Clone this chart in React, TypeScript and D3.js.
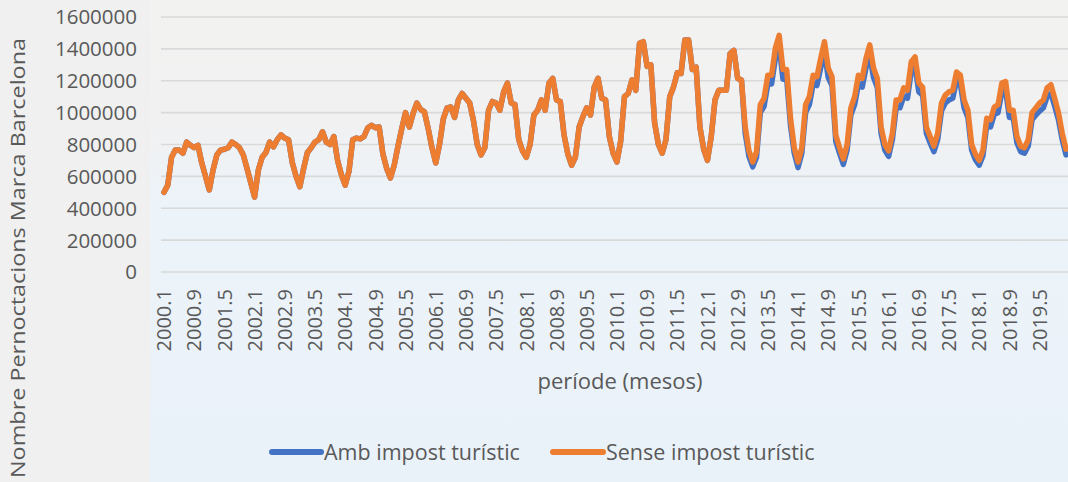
import React from 'react';
import * as d3 from 'd3';

// Monthly overnight stays, Jan..Dec per row, 2000-2019
const years = d3.range(2000, 2020);
const months = d3.range(1, 13);

const senseImpost = [
  500000, 545000, 720000, 765000, 765000, 745000, 815000, 795000, 780000, 795000, 685000, 600000, // 2000
  515000, 640000, 735000, 765000, 770000, 780000, 815000, 800000, 780000, 735000, 650000, 560000, // 2001
  470000, 640000, 720000, 750000, 815000, 785000, 830000, 860000, 840000, 830000, 685000, 600000, // 2002
  535000, 650000, 750000, 780000, 815000, 830000, 880000, 815000, 800000, 850000, 700000, 610000, // 2003
  545000, 630000, 830000, 840000, 835000, 850000, 905000, 920000, 905000, 910000, 740000, 650000, // 2004
  590000, 670000, 790000, 900000, 1000000, 910000, 995000, 1060000, 1020000, 1005000, 900000, 780000, // 2005
  685000, 800000, 960000, 1030000, 1035000, 970000, 1080000, 1120000, 1090000, 1060000, 950000, 800000, // 2006
  735000, 780000, 1015000, 1070000, 1060000, 1015000, 1130000, 1185000, 1060000, 1050000, 830000, 760000, // 2007
  720000, 800000, 985000, 1015000, 1080000, 1015000, 1185000, 1215000, 1080000, 1070000, 860000, 740000, // 2008
  670000, 720000, 910000, 975000, 1030000, 985000, 1160000, 1215000, 1090000, 1080000, 850000, 745000, // 2009
  690000, 820000, 1100000, 1120000, 1205000, 1140000, 1435000, 1445000, 1290000, 1300000, 935000, 800000, // 2010
  745000, 830000, 1100000, 1160000, 1250000, 1245000, 1455000, 1455000, 1270000, 1285000, 910000, 770000, // 2011
  700000, 850000, 1080000, 1140000, 1140000, 1140000, 1370000, 1390000, 1215000, 1205000, 910000, 760000, // 2012
  690000, 755000, 1050000, 1090000, 1235000, 1235000, 1405000, 1485000, 1270000, 1270000, 965000, 780000, // 2013
  690000, 780000, 1050000, 1100000, 1235000, 1225000, 1340000, 1445000, 1280000, 1225000, 860000, 780000, // 2014
  710000, 800000, 1030000, 1100000, 1235000, 1215000, 1340000, 1425000, 1280000, 1215000, 910000, 800000, // 2015
  760000, 870000, 1080000, 1080000, 1155000, 1140000, 1320000, 1350000, 1185000, 1160000, 910000, 850000, // 2016
  790000, 870000, 1060000, 1110000, 1130000, 1140000, 1255000, 1235000, 1080000, 1015000, 800000, 740000, // 2017
  700000, 765000, 965000, 955000, 1035000, 1050000, 1185000, 1195000, 1015000, 1015000, 850000, 790000, // 2018
  780000, 830000, 1000000, 1030000, 1060000, 1080000, 1155000, 1175000, 1090000, 1000000, 870000, 770000, // 2019
];

// with the tourist tax the series splits off from 2012.11 on
const ambImpostFrom = '2012.11';
const ambImpostTail = [
  870000, 725000, // 2012
  660000, 720000, 1000000, 1040000, 1180000, 1180000, 1340000, 1415000, 1210000, 1210000, 920000, 745000, // 2013
  655000, 745000, 1000000, 1050000, 1180000, 1170000, 1280000, 1380000, 1220000, 1170000, 820000, 745000, // 2014
  675000, 765000, 985000, 1050000, 1180000, 1160000, 1280000, 1360000, 1220000, 1160000, 870000, 765000, // 2015
  725000, 830000, 1030000, 1030000, 1100000, 1090000, 1260000, 1290000, 1130000, 1110000, 870000, 810000, // 2016
  755000, 830000, 1010000, 1060000, 1080000, 1090000, 1200000, 1180000, 1030000, 970000, 765000, 705000, // 2017
  670000, 730000, 920000, 910000, 990000, 1000000, 1130000, 1140000, 970000, 970000, 810000, 755000, // 2018
  745000, 790000, 955000, 985000, 1010000, 1030000, 1100000, 1120000, 1040000, 955000, 830000, 735000, // 2019
];

const yTicks = [0, 200000, 400000, 600000, 800000, 1000000, 1200000, 1400000, 1600000];

const categories = years.flatMap(y => months.map(m => `${y}.${m}`));
const splitIdx = categories.indexOf(ambImpostFrom);
const ambImpost = senseImpost.slice(0, splitIdx).concat(ambImpostTail);
const xLabels = categories.filter((_, i) => i % 8 === 0);

const W = 1068;
const H = 482;
const FONT = "'Open Sans', sans-serif";
const TXT = '#595959';

const App: React.FC = () => {
  const x = d3.scalePoint<string>().domain(categories).range([164, 1066]);
  const y = d3.scaleLinear().domain([0, 1600000]).range([272, 17]);

  const line = d3.line<number>()
    .x((_, i) => x(categories[i]) as number)
    .y(d => y(d));

  return (
    <svg width={W} height={H} style={{ position: 'absolute', left: 0, top: 0 }}>
      <defs>
        <linearGradient id="bg" x1="0" y1="0" x2="0" y2="1">
          <stop offset="0%" stopColor="#f2f2f1" />
          <stop offset="25%" stopColor="#f1f1f1" />
          <stop offset="42%" stopColor="#ecf3f9" />
          <stop offset="100%" stopColor="#eaf2f9" />
        </linearGradient>
      </defs>
      <rect x={0} y={0} width={W} height={H} fill="url(#bg)" />
      <rect x={0} y={0} width={150} height={H} fill="#f0f0f0" />

      {/* grid */}
      {yTicks.map(t => (
        <line key={t} x1={161} x2={W} y1={y(t)} y2={y(t)} stroke="#d9d9d9" strokeWidth={1.6} />
      ))}

      {/* y tick labels */}
      {yTicks.map(t => (
        <text key={t} x={137} y={y(t)} dy="0.36em" textAnchor="end"
          fontFamily={FONT} fontSize={20.5} fill={TXT}>{t}</text>
      ))}

      {/* x tick labels */}
      {xLabels.map(c => (
        <text key={c} transform={`translate(${x(c)},289) rotate(-90)`} dy="0.36em"
          textAnchor="end" fontFamily={FONT} fontSize={20} fill={TXT}>{c}</text>
      ))}

      {/* series */}
      <path d={line(ambImpost) || ''} fill="none" stroke="#4472C4" strokeWidth={5.5}
        strokeLinejoin="round" strokeLinecap="round" />
      <path d={line(senseImpost) || ''} fill="none" stroke="#ED7D31" strokeWidth={5.5}
        strokeLinejoin="round" strokeLinecap="round" />

      {/* axis titles */}
      <text x={620} y={381} dy="0.36em" textAnchor="middle" fontFamily={FONT} fontSize={22} fill={TXT}>
        període (mesos)
      </text>
      <text transform="translate(18,258) rotate(-90)" dy="0.36em" textAnchor="middle"
        fontFamily={FONT} fontSize={20} fill={TXT} textLength={440} lengthAdjust="spacingAndGlyphs">
        Nombre Pernoctacions Marca Barcelona
      </text>

      {/* legend */}
      <line x1={272} x2={321} y1={452} y2={452} stroke="#4472C4" strokeWidth={6} strokeLinecap="round" />
      <text x={324} y={452} dy="0.36em" fontFamily={FONT} fontSize={21.5} fill={TXT}>Amb impost turístic</text>
      <line x1={553} x2={603} y1={452} y2={452} stroke="#ED7D31" strokeWidth={6} strokeLinecap="round" />
      <text x={606} y={452} dy="0.36em" fontFamily={FONT} fontSize={21.5} fill={TXT}>Sense impost turístic</text>
    </svg>
  );
};

export default App;
